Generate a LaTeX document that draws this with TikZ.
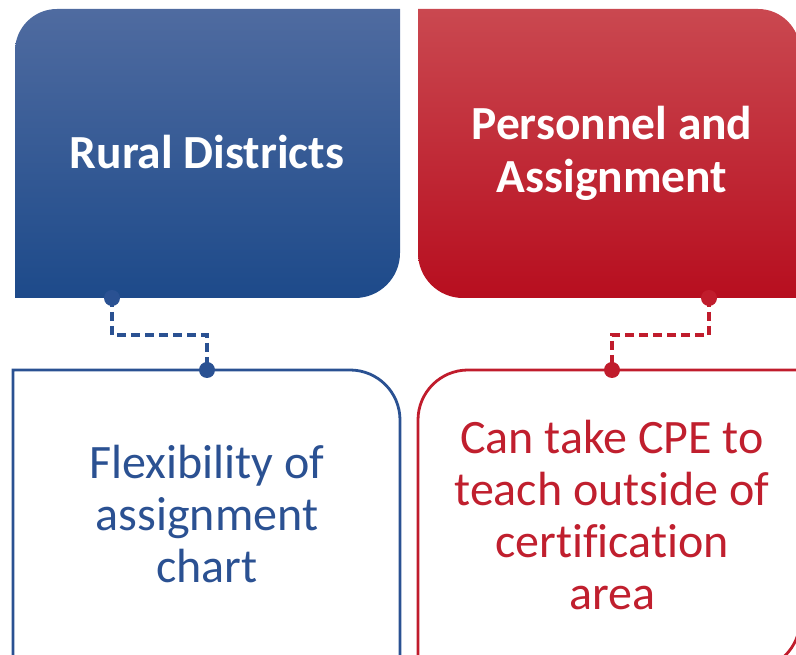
\documentclass[tikz,border=0pt]{standalone}
\usepackage{fontspec}
\setmainfont{Carlito}[Ligatures=CommonOff]
\definecolor{blueTop}{HTML}{4F6BA0}
\definecolor{blueBot}{HTML}{1D4A8A}
\definecolor{blueLine}{HTML}{2A5192}
\definecolor{blueText}{HTML}{2B5192}
\definecolor{redTop}{HTML}{CA4850}
\definecolor{redBot}{HTML}{B70E1F}
\definecolor{redLine}{HTML}{C01C2C}
\definecolor{redText}{HTML}{C01F2E}
\tikzset{
  headtext/.style={text=white,font=\fontsize{47.5}{53}\selectfont\bfseries,align=center},
  bodytext/.style={font=\fontsize{48}{52}\selectfont,align=center},
  dashlink/.style={line width=3.6pt,dash pattern=on 9pt off 5pt},
  dotmark/.style={circle,inner sep=0pt,minimum size=16pt},
  outline/.style={line width=2.8pt}
}
\begin{document}
\begin{tikzpicture}[x=1pt,y=1pt]
\useasboundingbox (0,0) rectangle (796,655);
\clip (0,0) rectangle (796,655);
% top blue box
\shade[top color=blueTop,bottom color=blueBot]
  (15,357) -- (15,604) arc[start angle=180,end angle=90,radius=42]
  -- (400,646) -- (400,402) arc[start angle=0,end angle=-90,radius=45] -- cycle;
% top red box
\shade[top color=redTop,bottom color=redBot]
  (418,646) -- (758,646) arc[start angle=90,end angle=0,radius=42]
  -- (800,357) -- (463,357) arc[start angle=270,end angle=180,radius=45] -- cycle;
% bottom blue box
\draw[outline,blueLine]
  (13,-40) -- (13,285) -- (350,285) arc[start angle=90,end angle=0,radius=50] -- (400,-40);
% bottom red box
\draw[outline,redLine]
  (418,-40) -- (418,235) arc[start angle=180,end angle=90,radius=50]
  -- (800,285) -- (800,35) arc[start angle=0,end angle=-90,radius=50] -- (418,-15);
% texts
\node[headtext] (rural) at (207,503) {Rural Districts};
\node[headtext] (pers) at (612,502) {Personnel and\\Assignment};
\node[bodytext,text=blueText] (flex) at (207,141) {Flexibility of\\assignment\\chart};
\node[bodytext,text=redText] (cpe) at (612,140) {Can take CPE to\\teach outside of\\certification\\area};
% connectors
\node[dotmark,fill=blueLine] (bA) at (112,357) {};
\node[dotmark,fill=blueLine] (bB) at (207,285) {};
\coordinate (bM) at (112,320);
\draw[dashlink,blueLine] (bA.center) -- (bM) -| (bB.center);
\node[dotmark,fill=redLine] (rA) at (709,357) {};
\node[dotmark,fill=redLine] (rB) at (612,285) {};
\coordinate (rM) at (709,320);
\draw[dashlink,redLine] (rA.center) -- (rM) -| (rB.center);
\end{tikzpicture}
\end{document}
